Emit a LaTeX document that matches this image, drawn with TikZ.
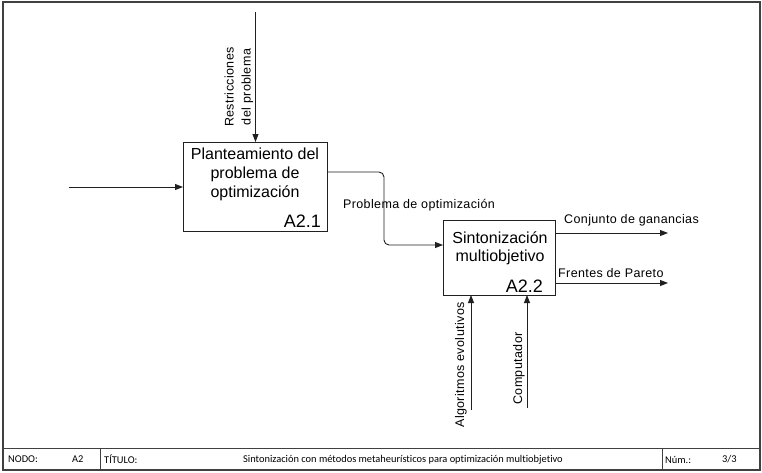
\documentclass[tikz,border=0pt]{standalone}
\usepackage{fontspec}
\setmainfont{Liberation Sans}
\newfontfamily\barfont[Ligatures=NoCommon]{Carlito}
\usetikzlibrary{arrows.meta}
\definecolor{framegray}{HTML}{404040}
\definecolor{linegray}{HTML}{202020}
\begin{document}
\begin{tikzpicture}[x=1pt,y=-1pt,
  actbox/.style={draw=linegray,line width=1pt,minimum width=#1,inner sep=0pt,fill=none},
  boxtext/.style={align=center,font=\fontsize{16}{19}\selectfont,inner sep=0pt},
  boxid/.style={font=\fontsize{18}{20}\selectfont,inner sep=0pt,anchor=south east},
  lbl/.style={font=\fontsize{12.5}{17}\selectfont\addfontfeature{LetterSpace=3},inner sep=0pt,align=center},
  barlbl/.style={font=\barfont\fontsize{10.4}{12}\selectfont,inner sep=0pt,anchor=west},
  flow/.style={draw=linegray,line width=0.9pt,-{Triangle[length=8pt,width=6pt]}}]
\useasboundingbox (0,0) rectangle (762,472);
% frame
\draw[framegray,line width=1.2pt] (3,2) rectangle (760,470);
\draw[framegray,line width=1pt] (3,448) -- (760,448);
\draw[framegray,line width=1pt] (100,448) -- (100,470);
\draw[framegray,line width=1pt] (662,448) -- (662,470);
\node[barlbl] (nodo) at (8,459.5) {NODO:};
\node[barlbl] (nodoval) at (72,459.5) {A2};
\node[barlbl] (tit) at (104,459.5) {TÍTULO:};
\node[barlbl,anchor=center] (titval) at (403,459.5) {Sintonización con métodos metaheurísticos para optimización multiobjetivo};
\node[barlbl] (num) at (665,459.5) {Núm.:};
\node[barlbl] (numval) at (722,459.5) {3/3};
% boxes
\node[actbox=144pt,minimum height=89pt] (b1) at (255,186.5) {};
\node[boxtext] (b1t) at (255,174.5) {Planteamiento del\\problema de\\optimización};
\node[boxid] (b1id) at (321,228) {A2.1};
\node[actbox=112pt,minimum height=75pt] (b2) at (499,257.5) {};
\node[boxtext,font=\fontsize{16}{18}\selectfont] (b2t) at (500,248) {Sintonización\\multiobjetivo};
\node[boxid] (b2id) at (543,293) {A2.2};
% coordinates
\coordinate (inS) at (69,187);
\coordinate (inE) at (183,187);
\coordinate (ctlS) at (255.5,12);
\coordinate (ctlE) at (255.5,142);
\coordinate (o1S) at (327,172);
\coordinate (o1E) at (443,245);
\coordinate (g1S) at (555,233);
\coordinate (g1E) at (668,233);
\coordinate (g2S) at (555,283);
\coordinate (g2E) at (668,283);
\coordinate (m1S) at (471,410);
\coordinate (m1E) at (471,295);
\coordinate (m2S) at (527,408);
\coordinate (m2E) at (527,295);
% connectors
\draw[flow] (inS) -- (inE);
\draw[flow] (ctlS) -- (ctlE);
\draw[flow,rounded corners=5pt] (o1S) -- (384,172) -- (384,245) -- (o1E);
\draw[flow] (g1S) -- (g1E);
\draw[flow] (g2S) -- (g2E);
\draw[flow] (m1S) -- (m1E);
\draw[flow] (m2S) -- (m2E);
% labels
\node[lbl,rotate=90] (ctlL) at (239,87) {Restricciones\\del problema};
\node[lbl] (o1L) at (419,205) {Problema de optimización};
\node[lbl,anchor=west] (g1L) at (564,220) {Conjunto de ganancias};
\node[lbl,anchor=west] (g2L) at (558,273) {Frentes de Pareto};
\node[lbl,rotate=90] (m1L) at (461,365) {Algoritmos evolutivos};
\node[lbl,rotate=90] (m2L) at (519,368.5) {Computador};
\end{tikzpicture}
\end{document}
